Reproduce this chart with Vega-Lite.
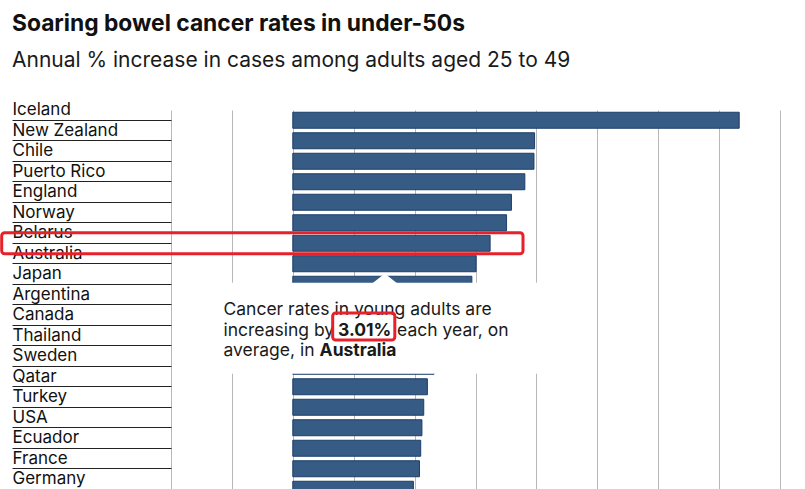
{
  "$schema": "https://vega.github.io/schema/vega-lite/v6.json",
  "width": 609,
  "height": 389.5,
  "autosize": {"type": "none"},
  "padding": {"left": 171, "top": 110, "right": 25, "bottom": 0},
  "background": "white",
  "title": {
    "text": "Soaring bowel cancer rates in under-50s",
    "subtitle": "Annual % increase in cases among adults aged 25 to 49",
    "anchor": "start",
    "frame": "group",
    "dx": -159,
    "font": "Inter",
    "fontSize": 22.8,
    "fontWeight": 700,
    "color": "#111111",
    "subtitleFont": "Inter",
    "subtitleFontSize": 21,
    "subtitleColor": "#1a1a1a",
    "subtitlePadding": 14,
    "offset": 30
  },
  "config": {"view": {"stroke": null}},
  "datasets": {
    "rates": [
      {"country": "Iceland", "rate": 7.33},
      {"country": "New Zealand", "rate": 3.97},
      {"country": "Chile", "rate": 3.96},
      {"country": "Puerto Rico", "rate": 3.81},
      {"country": "England", "rate": 3.59},
      {"country": "Norway", "rate": 3.51},
      {"country": "Belarus", "rate": 3.24},
      {"country": "Australia", "rate": 3.01},
      {"country": "Japan", "rate": 2.94},
      {"country": "Argentina", "rate": 2.8},
      {"country": "Canada", "rate": 2.65},
      {"country": "Thailand", "rate": 2.5},
      {"country": "Sweden", "rate": 2.32},
      {"country": "Qatar", "rate": 2.21},
      {"country": "Turkey", "rate": 2.15},
      {"country": "USA", "rate": 2.12},
      {"country": "Ecuador", "rate": 2.1},
      {"country": "France", "rate": 2.08},
      {"country": "Germany", "rate": 1.98}
    ]
  },
  "layer": [
    {
      "data": {"name": "rates"},
      "mark": {"type": "bar", "fill": "#365b84", "stroke": "#1d3e69", "strokeWidth": 1},
      "encoding": {
        "y": {
          "field": "country",
          "type": "nominal",
          "sort": null,
          "scale": {
            "domain": ["Iceland", "New Zealand", "Chile", "Puerto Rico", "England", "Norway", "Belarus", "Australia", "Japan", "Argentina", "Canada", "Thailand", "Sweden", "Qatar", "Turkey", "USA", "Ecuador", "France", "Germany"],
            "paddingInner": 0.22,
            "paddingOuter": 0.11
          },
          "axis": {
            "title": null,
            "domain": false,
            "grid": false,
            "ticks": true,
            "tickSize": 159,
            "tickColor": "#222222",
            "tickWidth": 1,
            "labelAlign": "left",
            "labelBaseline": "alphabetic",
            "labelPadding": 0,
            "labelOffset": -5,
            "labelFont": "Inter",
            "labelFontSize": 17,
            "labelColor": "#111111",
            "labelOverlap": false,
            "labelLimit": 300
          }
        },
        "x": {
          "field": "rate",
          "type": "quantitative",
          "scale": {"domain": [-2, 8], "zero": false, "nice": false},
          "axis": {
            "orient": "top",
            "values": [-2, -1, 0, 1, 2, 3, 4, 5, 6, 7, 8],
            "labels": false,
            "ticks": false,
            "domain": false,
            "title": null,
            "grid": true,
            "gridColor": "#b8b8b8",
            "gridWidth": 1
          }
        }
      }
    },
    {
      "data": {"values": [{"box": "tooltip"}]},
      "mark": {"type": "rect", "fill": "white", "height": 91, "yOffset": 3},
      "encoding": {
        "x": {"datum": -1.4},
        "x2": {"datum": 4.4},
        "y": {"datum": "Canada"}
      }
    },
    {
      "data": {"values": [{"box": "pointer"}]},
      "mark": {"type": "point", "shape": "M-1,0.4L0,-0.4L1,0.4Z", "size": 576, "filled": true, "fill": "white", "opacity": 1, "strokeWidth": 0, "yOffset": -6},
      "encoding": {
        "x": {"datum": 1.51},
        "y": {"datum": "Japan"}
      }
    },
    {
      "data": {"values": [{"t": "Cancer rates in young adults are"}]},
      "mark": {"type": "text", "align": "left", "baseline": "alphabetic", "dy": 10.5, "font": "Inter", "fontSize": 17.5, "color": "#1a1a1a"},
      "encoding": {"text": {"field": "t"}, "x": {"datum": -1.139}, "y": {"datum": "Argentina"}}
    },
    {
      "data": {"values": [{"t": "increasing by"}]},
      "mark": {"type": "text", "align": "left", "baseline": "alphabetic", "dy": 10.5, "font": "Inter", "fontSize": 17.5, "color": "#1a1a1a"},
      "encoding": {"text": {"field": "t"}, "x": {"datum": -1.139}, "y": {"datum": "Canada"}}
    },
    {
      "data": {"values": [{"t": "3.01%"}]},
      "mark": {"type": "text", "align": "left", "baseline": "alphabetic", "dy": 10.5, "font": "Inter", "fontSize": 17.5, "fontWeight": 700, "color": "#1a1a1a"},
      "encoding": {"text": {"field": "t"}, "x": {"datum": 0.742}, "y": {"datum": "Canada"}}
    },
    {
      "data": {"values": [{"t": "each year, on"}]},
      "mark": {"type": "text", "align": "left", "baseline": "alphabetic", "dy": 10.5, "font": "Inter", "fontSize": 17.5, "color": "#1a1a1a"},
      "encoding": {"text": {"field": "t"}, "x": {"datum": 1.713}, "y": {"datum": "Canada"}}
    },
    {
      "data": {"values": [{"t": "average, in"}]},
      "mark": {"type": "text", "align": "left", "baseline": "alphabetic", "dy": 10.5, "font": "Inter", "fontSize": 17.5, "color": "#1a1a1a"},
      "encoding": {"text": {"field": "t"}, "x": {"datum": -1.139}, "y": {"datum": "Thailand"}}
    },
    {
      "data": {"values": [{"t": "Australia"}]},
      "mark": {"type": "text", "align": "left", "baseline": "alphabetic", "dy": 10.5, "font": "Inter", "fontSize": 17.5, "fontWeight": 700, "color": "#1a1a1a"},
      "encoding": {"text": {"field": "t"}, "x": {"datum": 0.44}, "y": {"datum": "Thailand"}}
    },
    {
      "data": {"values": [{"box": "highlight row"}]},
      "mark": {"type": "rect", "fill": null, "fillOpacity": 0, "stroke": "#e8202a", "strokeWidth": 3, "cornerRadius": 3, "height": 21},
      "encoding": {
        "x": {"datum": -4.78},
        "x2": {"datum": 3.78},
        "y": {"datum": "Belarus"}
      }
    },
    {
      "data": {"values": [{"box": "highlight value"}]},
      "mark": {"type": "rect", "fill": null, "fillOpacity": 0, "stroke": "#e8202a", "strokeWidth": 3, "cornerRadius": 3, "height": 27, "yOffset": 1.25},
      "encoding": {
        "x": {"datum": 0.655},
        "x2": {"datum": 1.675},
        "y": {"datum": "Canada"}
      }
    }
  ]
}
